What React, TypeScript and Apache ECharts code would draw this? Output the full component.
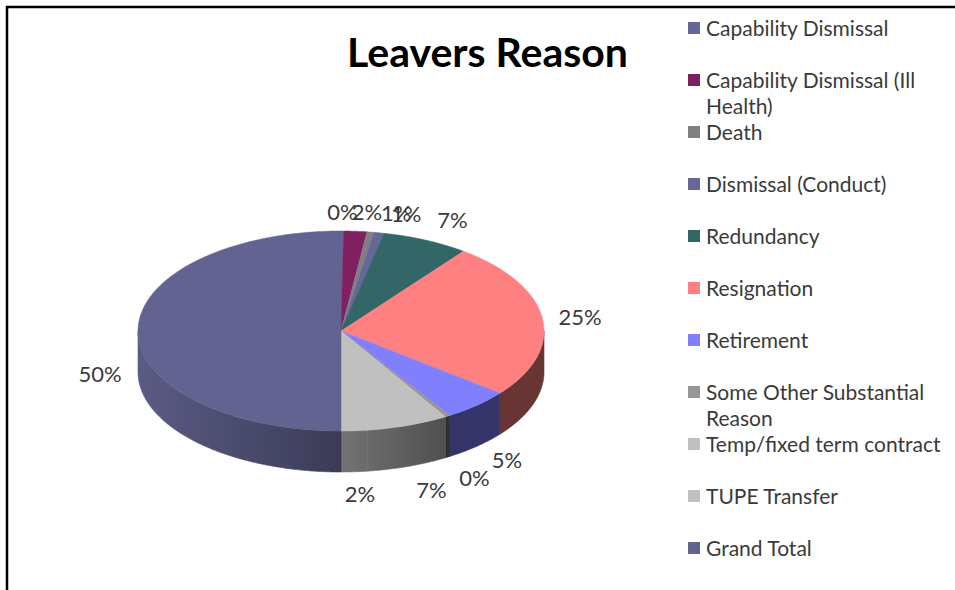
import React, { useEffect, useRef } from "react";
import * as echarts from "echarts";

const TITLE = "Leavers Reason";
const CATEGORIES = [
  "Capability Dismissal",
  "Capability Dismissal (Ill\nHealth)",
  "Death",
  "Dismissal (Conduct)",
  "Redundancy",
  "Resignation",
  "Retirement",
  "Some Other Substantial\nReason",
  "Temp/fixed term contract",
  "TUPE Transfer",
  "Grand Total",
];
const VALUES = [0.2, 1.85, 0.55, 0.8, 6.9, 25.4, 5.3, 0.4, 6.5, 2.1, 50.0];
const COLORS = ["#666699", "#802060", "#808080", "#666699", "#336666", "#FF8080", "#8080FF", "#969696", "#C0C0C0", "#C0C0C0", "#636391"];
const LABEL_NUDGE_X = [0, 9, 20, 20, 11, 0, 5, 7, 11, 3, 0];
const LABEL_NUDGE_Y = [0, 0, 0, 0, -2, 1, -5, 0, 1, -1, -2];

const CX = 341, CY = 331, RX = 203, RY = 100, DEPTH = 41;
const TOTAL = VALUES.reduce((a, b) => a + b, 0);
const FONT = "Lato, 'Open Sans', sans-serif";
const TEXT = "#3a3a3a";

const startFrac = (i: number) => VALUES.slice(0, i).reduce((a, b) => a + b, 0) / TOTAL;
const pt = (a: number, dy = 0): number[] => [CX + RX * Math.sin(a), CY - RY * Math.cos(a) + dy];
const arcPts = (a0: number, a1: number, dy = 0) => {
  const n = Math.max(2, Math.ceil(Math.abs(a1 - a0) / 0.01));
  const out: number[][] = [];
  for (let k = 0; k <= n; k++) out.push(pt(a0 + ((a1 - a0) * k) / n, dy));
  return out;
};
const shade = (hex: string, f: number) => {
  const n = parseInt(hex.slice(1), 16);
  const c = [(n >> 16) & 255, (n >> 8) & 255, n & 255].map((v) => Math.round(v * f));
  return `rgb(${c[0]},${c[1]},${c[2]})`;
};
const SHADE_STOPS = [
  [0, 0.92],
  [0.5, 0.6],
  [0.76, 0.41],
  [1, 0.41],
];

function renderWall(params: any, api: any) {
  const i = params.dataIndex;
  const a0 = startFrac(i) * 2 * Math.PI;
  const a1 = a0 + (api.value(0) / TOTAL) * 2 * Math.PI;
  const from = Math.max(a0, Math.PI / 2);
  const to = Math.min(a1, (3 * Math.PI) / 2);
  if (to <= from) return { type: "group", children: [] };
  const points = [...arcPts(from, to), ...arcPts(to, from, DEPTH)];
  const isThin = to - from < 0.05;
  const fill = {
    type: "linear",
    global: true,
    x: CX - RX,
    y: 0,
    x2: CX + RX,
    y2: 0,
    colorStops: SHADE_STOPS.map(([offset, f]) => ({ offset, color: shade(COLORS[i], isThin ? f * 0.75 : f) })),
  };
  return {
    type: "polygon",
    shape: { points },
    style: { fill, stroke: fill, lineWidth: 0.6 },
  };
}

function renderSlice(params: any, api: any) {
  const i = params.dataIndex;
  const frac = api.value(0) / TOTAL;
  const a0 = startFrac(i) * 2 * Math.PI;
  const a1 = a0 + frac * 2 * Math.PI;
  const mid = (a0 + a1) / 2;
  const lower = mid > Math.PI / 2 - 1e-6 && mid < (3 * Math.PI) / 2 + 1e-6;
  return {
    type: "group",
    children: [
      {
        type: "polygon",
        shape: { points: [[CX, CY], ...arcPts(a0, a1)] },
        style: { fill: COLORS[i], stroke: COLORS[i], lineWidth: 0.5 },
      },
      {
        type: "text",
        style: {
          text: `${Math.round(frac * 100)}%`,
          x: CX + (RX + 38) * Math.sin(mid) + LABEL_NUDGE_X[i],
          y: CY - (RY + 20) * Math.cos(mid) + (lower ? 44 : 0) + LABEL_NUDGE_Y[i],
          align: "center",
          verticalAlign: "middle",
          fontFamily: FONT,
          fontSize: 22,
          fill: TEXT,
        },
      },
    ],
  };
}

const LEGEND_ITEMS = CATEGORIES.flatMap((name, i) => {
  const y = 28 + 52 * i;
  return [
    { type: "rect", shape: { x: 688, y: y - 6, width: 12, height: 12 }, style: { fill: COLORS[i] } },
    {
      type: "text",
      style: {
        text: name,
        x: 706,
        y: y - 14,
        fontFamily: FONT,
        fontSize: 21,
        lineHeight: 26,
        fill: TEXT,
        verticalAlign: "top",
      },
    },
  ];
});

export default function App() {
  const ref = useRef<HTMLDivElement>(null);
  useEffect(() => {
    const chart = echarts.init(ref.current!, null, { renderer: "svg" });
    const data = CATEGORIES.map((name, i) => ({ name, value: VALUES[i] }));
    chart.setOption({
      animation: false,
      backgroundColor: "#ffffff",
      title: {
        text: TITLE,
        left: 342,
        top: 26,
        textStyle: { fontFamily: FONT, fontSize: 41, fontWeight: "bold", color: "#000000" },
      },
      series: [
        { type: "custom", name: "Walls", coordinateSystem: "none", renderItem: renderWall, data, z: 1, silent: true },
        { type: "custom", name: "Slices", coordinateSystem: "none", renderItem: renderSlice, data, z: 2, silent: true },
      ],
      graphic: [
        {
          type: "polyline",
          shape: { points: [[7, 590], [7, 7], [955, 7]] },
          style: { stroke: "#000000", lineWidth: 2.5, fill: "none" },
        },
        ...LEGEND_ITEMS,
      ],
    });
    return () => chart.dispose();
  }, []);
  return <div ref={ref} style={{ position: "fixed", left: 0, top: 0, width: 955, height: 590 }} />;
}
